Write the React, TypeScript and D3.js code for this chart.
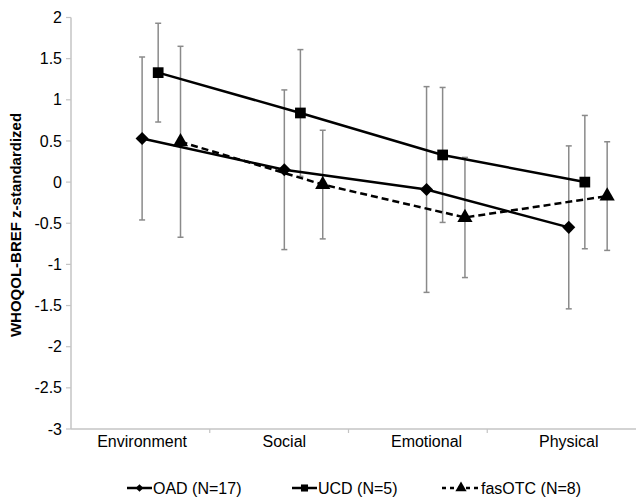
import React from "react";
import * as d3 from "d3";

// Categories and tick labels
const categories = ["Environment", "Social", "Emotional", "Physical"];
const yTicks = [2, 1.5, 1, 0.5, 0, -0.5, -1, -1.5, -2, -2.5, -3];

// Series means and error half-widths
const oadMean = [0.53, 0.15, -0.09, -0.55];
const oadErr = [0.99, 0.97, 1.25, 0.99];
const ucdMean = [1.33, 0.84, 0.33, 0.0];
const ucdErr = [0.6, 0.77, 0.82, 0.81];
const fasMean = [0.49, -0.03, -0.43, -0.17];
const fasErr = [1.16, 0.66, 0.73, 0.66];

const series = [
  { name: "OAD (N=17)", mean: oadMean, err: oadErr, shift: 0, symbol: "diamond", dash: "" },
  { name: "UCD (N=5)", mean: ucdMean, err: ucdErr, shift: 0.113, symbol: "square", dash: "" },
  { name: "fasOTC (N=8)", mean: fasMean, err: fasErr, shift: 0.27, symbol: "triangle", dash: "7,4" },
];

const W = 636;
const H = 501;
const left = 71;
const top = 17.5;
const bottom = 429;
const axisRight = 626;

function symbolPath(kind: string, size: number) {
  if (kind === "triangle") return d3.symbol(d3.symbolTriangle, size)() as string;
  // square, and diamond (rotated square)
  return d3.symbol(d3.symbolSquare, size)() as string;
}

export default function App() {
  const y = d3.scaleLinear().domain([-3, 2]).range([bottom, top]);
  // category axis (tick marks between bands)
  const band = d3.scaleBand().domain(categories).range([left, axisRight]);
  // positions of the points / category labels
  const xm = d3.scaleLinear().domain([0, 4]).range([left, left + 4 * band.step() * 1.025]);

  const font = "'Liberation Sans', Arial, sans-serif";

  return (
    <svg width={W} height={H} style={{ position: "absolute", left: 0, top: 0, background: "#fff" }} fontFamily={font}>
      {/* y axis */}
      <line x1={left} x2={left} y1={top} y2={bottom} stroke="#c4c4c4" strokeWidth={1.5} />
      {yTicks.map((t) => (
        <g key={t}>
          <line x1={left - 5} x2={left} y1={y(t)} y2={y(t)} stroke="#c4c4c4" strokeWidth={1.2} />
          <text x={left - 9} y={y(t)} dy="0.35em" textAnchor="end" fontSize={16} fill="#000">
            {t}
          </text>
        </g>
      ))}
      {/* x axis */}
      <line x1={left} x2={W} y1={bottom} y2={bottom} stroke="#c4c4c4" strokeWidth={1.5} />
      {categories.slice(1).map((c) => (
        <line key={c} x1={band(c)!} x2={band(c)!} y1={bottom} y2={bottom + 4} stroke="#c4c4c4" strokeWidth={1.2} />
      ))}
      {categories.map((c, i) => (
        <text key={c} x={xm(i + 0.5)} y={bottom + 18} textAnchor="middle" fontSize={16} fill="#000">
          {c}
        </text>
      ))}
      {/* y axis title */}
      <text transform={`translate(21,225) rotate(-90)`} textAnchor="middle" fontSize={15} fontWeight="bold">
        WHOQOL-BREF z-standardized
      </text>

      {/* error bars */}
      {series.map((s) =>
        s.mean.map((m, i) => {
          const cx = xm(i + 0.5 + s.shift);
          const y1 = y(m + s.err[i]);
          const y2 = y(m - s.err[i]);
          return (
            <g key={s.name + i} stroke="#8a8a8a" strokeWidth={1.5}>
              <line x1={cx} x2={cx} y1={y1} y2={y2} />
              <line x1={cx - 3} x2={cx + 3} y1={y1} y2={y1} />
              <line x1={cx - 3} x2={cx + 3} y1={y2} y2={y2} />
            </g>
          );
        })
      )}

      {/* lines */}
      {series.map((s) => {
        const l = d3
          .line<number>()
          .x((_, i) => xm(i + 0.5 + s.shift))
          .y((d) => y(d));
        return (
          <path key={s.name} d={l(s.mean) as string} fill="none" stroke="#000" strokeWidth={2.5} strokeDasharray={s.dash} />
        );
      })}

      {/* markers */}
      {series.map((s) =>
        s.mean.map((m, i) => {
          const cx = xm(i + 0.5 + s.shift);
          const size = s.symbol === "triangle" ? 100 : s.symbol === "square" ? 115 : 85;
          return (
            <path
              key={s.name + "m" + i}
              d={symbolPath(s.symbol, size)}
              transform={`translate(${cx},${y(m)})${s.symbol === "diamond" ? " rotate(45)" : ""}`}
              fill="#000"
            />
          );
        })
      )}

      {/* legend */}
      {series.map((s, k) => {
        const lx = [127, 292, 442][k];
        const lw = k === 2 ? 38 : 25;
        const ly = 488;
        const size = s.symbol === "triangle" ? 55 : s.symbol === "square" ? 50 : 30;
        return (
          <g key={s.name + "lg"}>
            <line x1={lx} x2={lx + lw} y1={ly} y2={ly} stroke="#000" strokeWidth={2.5} strokeDasharray={k === 2 ? "4,4" : ""} />
            <path
              d={symbolPath(s.symbol, size)}
              transform={`translate(${lx + lw / 2},${ly})${s.symbol === "diamond" ? " rotate(45)" : ""}`}
              fill="#000"
            />
            <text x={lx + lw + 1} y={ly} dy="0.35em" fontSize={16} fill="#000">
              {s.name}
            </text>
          </g>
        );
      })}
    </svg>
  );
}
